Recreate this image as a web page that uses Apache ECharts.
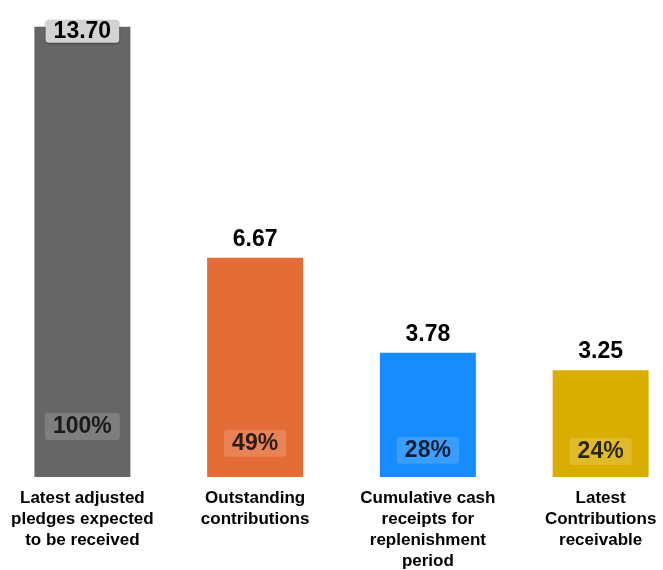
<!DOCTYPE html>
<html>
<head>
<meta charset="utf-8">
<script src="https://cdn.jsdelivr.net/npm/echarts@6/dist/echarts.min.js"></script>
<style>
  html, body { margin: 0; padding: 0; background: #ffffff; }
  #chart { width: 663px; height: 570px; }
</style>
</head>
<body>
<div id="chart"></div>
<script>
// Replenishment figures (USD billion) and their share of the adjusted pledges
const categories = [
  'Latest adjusted\npledges expected\nto be received',
  'Outstanding\ncontributions',
  'Cumulative cash\nreceipts for\nreplenishment\nperiod',
  'Latest\nContributions\nreceivable'
];
const amounts = [13.70, 6.67, 3.78, 3.25];
const shares = [100, 49, 28, 24];
const barColors = ['#666666', '#E46C37', '#168CFF', '#D9AE00'];

const FONT = '"Liberation Sans", Arial, sans-serif';

const chart = echarts.init(document.getElementById('chart'), null, { renderer: 'canvas' });

// Bars; the headline (first) amount sits in a grey tag on top of its bar
const barData = amounts.map((v, i) => {
  const item = { value: v, itemStyle: { color: barColors[i] } };
  if (i === 0) {
    item.label = {
      distance: -16,
      backgroundColor: '#d3d3d3',
      padding: [0, 8],
      lineHeight: 23,
      borderRadius: 3,
      shadowColor: 'rgba(0,0,0,0.35)',
      shadowBlur: 2,
      shadowOffsetY: 1
    };
  }
  return item;
});

// Percentage tags placed on a hidden share axis near the foot of each bar
const shareData = shares.map((p, i) => ({ value: [i, p] }));

chart.setOption({
  animation: false,
  backgroundColor: '#ffffff',
  grid: {
    left: -4,
    width: 691,
    top: 17,
    bottom: 93,
    containLabel: false,
    outerBoundsMode: 'none'
  },
  xAxis: {
    type: 'category',
    data: categories,
    axisLine: { show: false },
    axisTick: { show: false },
    axisLabel: {
      margin: 11,
      interval: 0,
      color: '#000000',
      fontFamily: FONT,
      fontWeight: 'bold',
      fontSize: 17,
      lineHeight: 21,
      align: 'center'
    }
  },
  yAxis: [
    { type: 'value', min: 0, max: 14, show: false, splitLine: { show: false } },
    { type: 'value', min: -53.5, max: 1344.5, show: false, splitLine: { show: false } }
  ],
  series: [
    {
      type: 'bar',
      data: barData,
      barWidth: 96,
      label: {
        show: true,
        position: 'top',
        distance: 7,
        color: '#000000',
        fontFamily: FONT,
        fontWeight: 'bold',
        fontSize: 23,
        formatter: p => p.value.toFixed(2)
      }
    },
    {
      type: 'scatter',
      yAxisIndex: 1,
      data: shareData,
      symbolSize: 0,
      silent: true,
      label: {
        show: true,
        position: 'inside',
        color: '#000000',
        fontFamily: FONT,
        fontWeight: 'bold',
        fontSize: 23,
        lineHeight: 23,
        padding: [2, 8],
        borderRadius: 3,
        backgroundColor: 'rgba(255,255,255,0.2)',
        formatter: p => p.value[1] + '%'
      }
    }
  ]
});
</script>
</body>
</html>
